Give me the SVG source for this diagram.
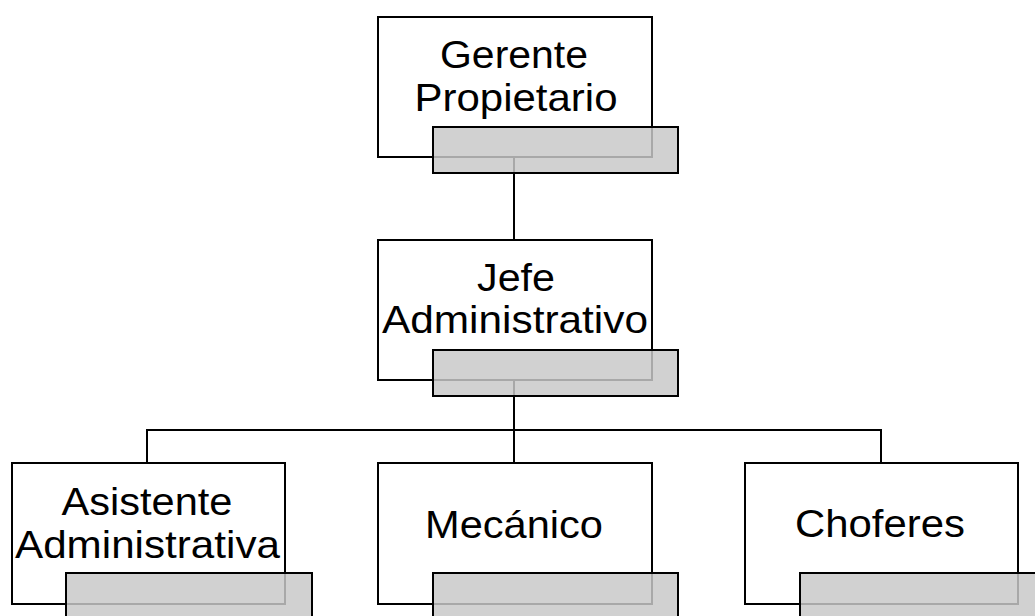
<svg xmlns="http://www.w3.org/2000/svg" width="1035" height="616" viewBox="0 0 1035 616">
  <style>
    .box { fill: #ffffff; stroke: #000000; stroke-width: 2; }
    .tab { fill: #c8c8c8; fill-opacity: 0.84; stroke: #000000; stroke-width: 2; }
    .link { fill: none; stroke: #000000; stroke-width: 2; }
    .lbl { font-family: "Liberation Sans", Arial, sans-serif; font-size: 38.5px; fill: #000000; text-anchor: middle; }
  </style>
  <rect width="1035" height="616" fill="#ffffff"/>

  <!-- connectors -->
  <g id="connectors">
    <line class="link" x1="514" y1="157" x2="514" y2="240"/>
    <line class="link" x1="514" y1="380" x2="514" y2="463"/>
    <polyline class="link" points="147,463 147,430 881,430 881,463"/>
  </g>

  <!-- Gerente Propietario -->
  <g id="node-gerente">
    <rect class="box" x="378" y="17" width="274" height="140"/>
    <text class="lbl" x="514" y="68" textLength="148" lengthAdjust="spacingAndGlyphs">Gerente</text>
    <text class="lbl" x="516" y="111" textLength="203" lengthAdjust="spacingAndGlyphs">Propietario</text>
    <rect class="tab" x="433" y="127" width="245" height="46"/>
  </g>

  <!-- Jefe Administrativo -->
  <g id="node-jefe">
    <rect class="box" x="378" y="240" width="274" height="140"/>
    <text class="lbl" x="516" y="291" textLength="78" lengthAdjust="spacingAndGlyphs">Jefe</text>
    <text class="lbl" x="515" y="333" textLength="266" lengthAdjust="spacingAndGlyphs">Administrativo</text>
    <rect class="tab" x="433" y="350" width="245" height="46"/>
  </g>

  <!-- Asistente Administrativa -->
  <g id="node-asistente">
    <rect class="box" x="12" y="463" width="273" height="141"/>
    <text class="lbl" x="147" y="515" textLength="171" lengthAdjust="spacingAndGlyphs">Asistente</text>
    <text class="lbl" x="147.5" y="558" textLength="265" lengthAdjust="spacingAndGlyphs">Administrativa</text>
    <rect class="tab" x="66" y="573" width="246" height="46"/>
  </g>

  <!-- Mecánico -->
  <g id="node-mecanico">
    <rect class="box" x="378" y="463" width="274" height="141"/>
    <text class="lbl" x="514" y="538" textLength="178" lengthAdjust="spacingAndGlyphs">Mecánico</text>
    <rect class="tab" x="433" y="573" width="245" height="46"/>
  </g>

  <!-- Choferes -->
  <g id="node-choferes">
    <rect class="box" x="745" y="463" width="273" height="141"/>
    <text class="lbl" x="880" y="537" textLength="170" lengthAdjust="spacingAndGlyphs">Choferes</text>
    <rect class="tab" x="800" y="573" width="246" height="46"/>
  </g>
</svg>
